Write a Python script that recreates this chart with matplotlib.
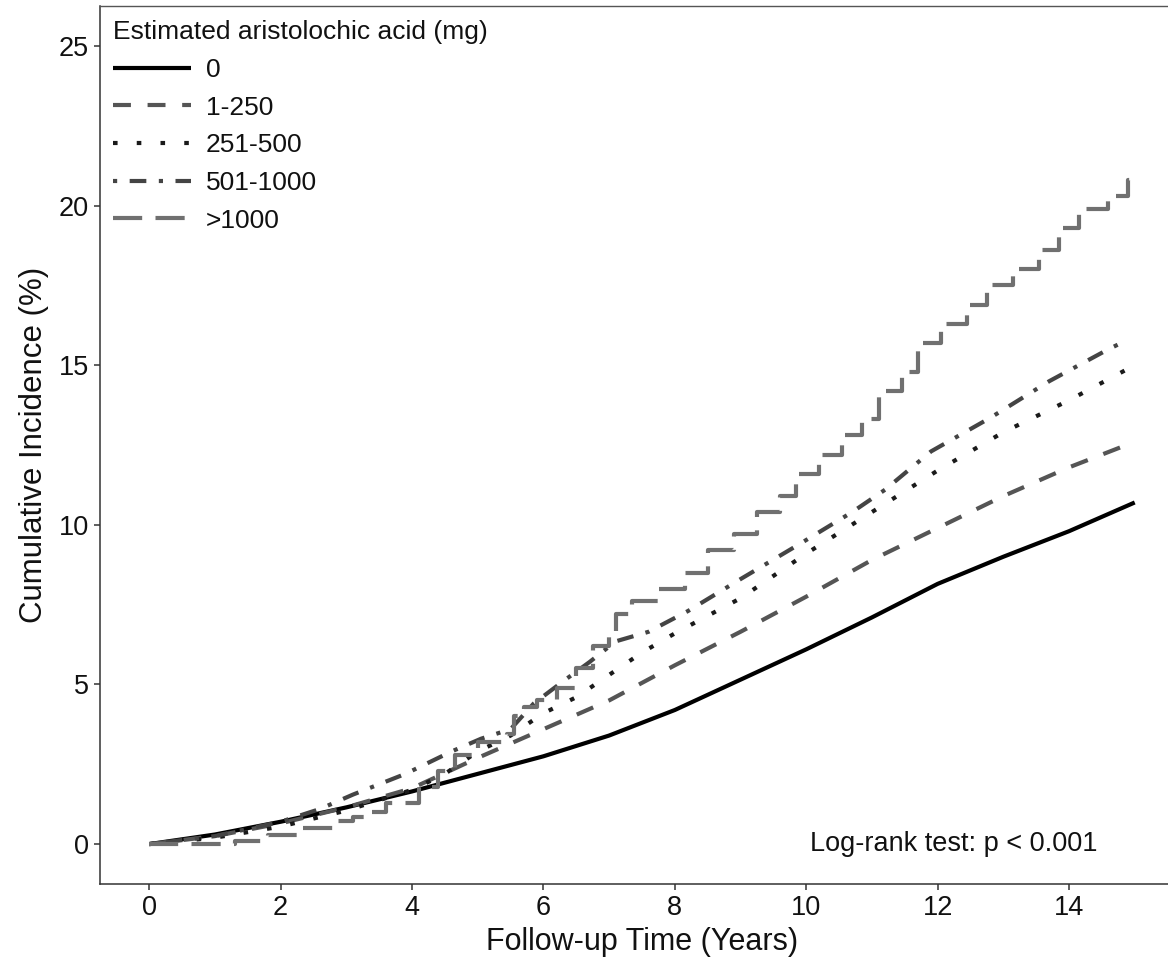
import matplotlib
matplotlib.use("Agg")
import matplotlib.pyplot as plt

plt.rcParams['font.family'] = ['Liberation Sans', 'DejaVu Sans']

# ---- data ----
t_0 = [0, 1, 2, 3, 4, 5, 6, 7, 8, 9, 10, 11, 12, 13, 14, 15]
v_0 = [0, 0.3, 0.7, 1.15, 1.65, 2.2, 2.75, 3.4, 4.2, 5.15, 6.1, 7.1, 8.15, 9.0, 9.8, 10.7]

t_1_250 = [0, 1, 2, 3, 4, 5, 6, 7, 8, 9, 10, 11, 12, 13, 14, 15]
v_1_250 = [0, 0.25, 0.65, 1.15, 1.75, 2.7, 3.6, 4.5, 5.6, 6.65, 7.75, 8.9, 9.9, 10.9, 11.8, 12.6]

t_251_500 = [0, 1, 2, 3, 4, 4.5, 5, 5.5, 6, 6.5, 7, 7.5, 8, 9, 10, 11, 12, 13, 14, 15]
v_251_500 = [0, 0.2, 0.55, 1.05, 1.7, 2.2, 2.9, 3.4, 4.1, 4.6, 5.3, 6.0, 6.6, 7.7, 9.1, 10.4, 11.7, 12.9, 13.9, 15.0]

t_501_1000 = [0, 1, 2, 2.6, 3.1, 3.9, 4.6, 5.05, 5.5, 5.85, 6.3, 6.7, 7.1, 7.6, 8.2, 9.0,
              9.9, 10.7, 11.2, 11.9, 12.8, 13.7, 14.6, 14.9]
v_501_1000 = [0, 0.25, 0.7, 1.1, 1.55, 2.2, 2.9, 3.3, 3.6, 4.4, 5.1, 5.7, 6.35, 6.65, 7.3, 8.3,
              9.4, 10.4, 11.1, 12.3, 13.35, 14.5, 15.5, 15.8]

t_gt1000 = [0, 0.8, 1.3, 1.8, 2.3, 2.8, 3.1, 3.35, 3.6, 4.1, 4.4, 4.65, 5.0, 5.45, 5.55, 5.7,
            5.9, 6.2, 6.5, 6.75, 7.0, 7.1, 7.35, 7.75, 8.15, 8.5, 8.9, 9.25, 9.6, 9.85, 10.2,
            10.55, 10.85, 11.1, 11.45, 11.7, 12.05, 12.45, 12.75, 13.15, 13.55, 13.85, 14.15,
            14.6, 14.9, 15.0]
v_gt1000 = [0, 0.0, 0.1, 0.3, 0.5, 0.72, 0.85, 1.0, 1.3, 1.8, 2.3, 2.8, 3.2, 3.45, 4.0, 4.3,
            4.5, 4.9, 5.5, 6.2, 6.6, 7.2, 7.6, 8.0, 8.5, 9.2, 9.7, 10.4, 10.9, 11.6, 12.2,
            12.8, 13.3, 14.2, 14.8, 15.7, 16.3, 16.9, 17.5, 18.0, 18.6, 19.3, 19.9,
            20.3, 20.8, 20.9]

group_labels = ["0", "1-250", "251-500", "501-1000", ">1000"]
legend_title = "Estimated aristolochic acid (mg)"
x_ticks = [0, 2, 4, 6, 8, 10, 12, 14]
y_ticks = [0, 5, 10, 15, 20, 25]

# ---- figure ----
W, H = 1168, 959
fig = plt.figure(figsize=(W / 100, H / 100), dpi=100)
ax_left, ax_right, ax_top, ax_bottom = 100, 1184, 6, 884
ax = fig.add_axes([ax_left / W, 1 - ax_bottom / H, (ax_right - ax_left) / W, (ax_bottom - ax_top) / H])

lw = 3.0
ax.plot(t_0, v_0, color='#000000', lw=lw, solid_capstyle='butt', label=group_labels[0])
ax.plot(t_1_250, v_1_250, color='#555555', lw=lw, dashes=(4.3, 4.0), dash_capstyle='butt',
        label=group_labels[1])
ax.plot(t_251_500, v_251_500, color='#1a1a1a', lw=lw, dashes=(1.1, 4.6), dash_capstyle='butt',
        label=group_labels[2])
ax.plot(t_501_1000, v_501_1000, color='#444444', lw=lw, dashes=(1, 3, 4, 3), dash_capstyle='butt',
        label=group_labels[3])
ax.plot(t_gt1000, v_gt1000, color='#707070', lw=lw, dashes=(7, 3.2), dash_capstyle='butt',
        drawstyle='steps-post', label=group_labels[4])

ax.set_xlim(-0.75, 15.75)
ax.set_ylim(-1.25, 26.25)
ax.set_xticks(x_ticks)
ax.set_yticks(y_ticks)
ax.tick_params(axis='both', labelsize=19.5, length=4, width=1.1, color='#333333',
               labelcolor='#111111', pad=4)

for s in ['left', 'bottom']:
    ax.spines[s].set_color('#333333')
    ax.spines[s].set_linewidth(1.1)
ax.spines['top'].set_color('#555555')
ax.spines['top'].set_linewidth(1.0)
ax.spines['right'].set_visible(False)

ax.set_xlabel("Follow-up Time (Years)", fontsize=22, labelpad=4, color='#111111')
ax.set_ylabel("Cumulative Incidence (%)", fontsize=22.5, labelpad=7, color='#111111')

ax.text(14.44, 0, "Log-rank test: p < 0.001", fontsize=19.5, ha='right', va='center',
        color='#111111')

leg = ax.legend(title=legend_title, loc='upper left', bbox_to_anchor=(0.0075, 0.99),
                frameon=False, fontsize=19, title_fontsize=19, handlelength=2.95,
                handletextpad=0.55, labelspacing=0.52, borderaxespad=0.0, borderpad=0.2,
                alignment='left')
for txt in leg.get_texts():
    txt.set_color('#111111')
leg.get_title().set_color('#111111')

fig.savefig("out.png", dpi=100)
